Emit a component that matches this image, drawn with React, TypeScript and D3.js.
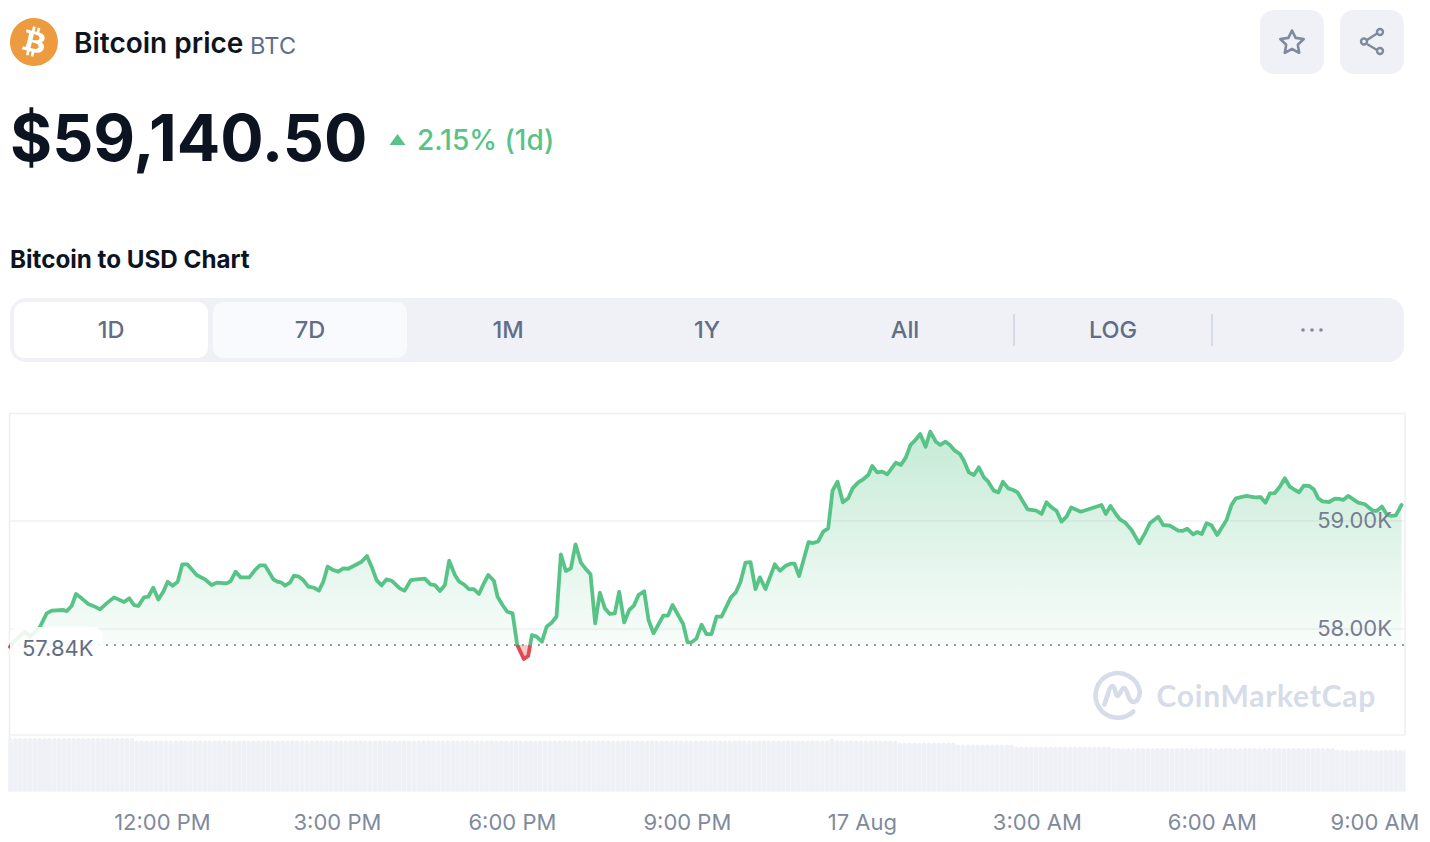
import * as d3 from 'd3';

// minutes since the left edge of the chart (about 9:24 AM on 16 Aug)
const minutes = [
  0, 2, 15.4, 20.6, 30.9, 37.7, 42.9, 54.9, 58.3, 63.4, 67.9, 73.7, 80.6, 87.4, 92.6, 99.4, 107, 117.3, 122.7, 127.5,
  132, 137.8, 142.3, 147.4, 152.6, 157.7, 162.2, 167.3, 172.5, 177.3, 182.4, 192, 200.6, 207.4, 212.6, 222.9, 227, 232.1, 237.3, 246.2,
  252, 257.1, 262.3, 270.9, 275, 279.4, 282.9, 288, 292.1, 297.3, 301.7, 306.9, 312.7, 317.8, 322.3, 326.7, 332.6, 337.7, 342.9, 348,
  361.7, 367.2, 372, 377.1, 382.3, 387.4, 392.6, 401, 406, 412.4, 418.2, 426.8, 432.6, 437.1, 442.2, 447.4, 451.8, 457.7, 462.1, 466.9,
  472.1, 477.2, 482.4, 487.5, 492, 497.8, 501.6, 506.7, 511.5, 517, 521.8, 528.6, 533.1, 536.9, 541.7, 547.2, 552, 557.1, 562.2, 566.7,
  571.8, 577, 581.8, 587.3, 592.4, 597.2, 602, 606.8, 612, 617.1, 622.2, 626.7, 631.8, 637, 641.8, 646.6, 652.4, 656.9, 662, 672,
  676.8, 681.6, 692.5, 697, 701.1, 706.2, 711.4, 716.5, 721.7, 726.8, 732, 741.6, 746.7, 751.5, 756.6, 761.8, 766.9, 771.4, 777.2, 786.8,
  792, 798.1, 802.9, 807.1, 811.8, 821.5, 826.2, 831.4, 836.6, 841.7, 846.2, 851.3, 856.8, 862.3, 866.8, 872.6, 877.7, 882.9, 887, 892.1,
  897.3, 902.4, 911.3, 916.5, 921.6, 926.4, 930.9, 936.4, 941.9, 946.7, 952.5, 957, 962.4, 966.9, 972, 977.2, 981.3, 986.4, 991.6, 996.7,
  1001.9, 1006.3, 1012.1, 1016.9, 1021.4, 1026.9, 1032, 1036.5, 1046.8, 1056, 1061.2, 1066.3, 1071.5, 1076.6, 1081.7, 1086.9, 1091.7, 1101.6, 1122.9, 1127.3,
  1132.1, 1138.3, 1141.8, 1146.9, 1153.8, 1161.7, 1167.5, 1172.6, 1181.2, 1186.3, 1193.2, 1201.8, 1206.2, 1211, 1217.2, 1221.3, 1226.1, 1230.9, 1236, 1241.9,
  1251.5, 1256.6, 1261.1, 1272, 1280.6, 1286.5, 1291.6, 1296.1, 1301.2, 1306.3, 1311.5, 1316.6, 1321.8, 1326.2, 1331, 1336.5, 1341.3, 1345.8, 1350.2, 1357.1,
  1362.9, 1368, 1371.5, 1376.6, 1386.9, 1393.8, 1402.3, 1405.8, 1411.3, 1416.8, 1421.2, 1425.7, 1431.5,
];

const prices = [
  57835, 57867, 57975, 57929, 58021, 58145, 58170, 58176, 58166, 58213, 58324, 58284, 58231, 58207, 58182, 58237, 58293, 58250, 58284, 58222,
  58213, 58293, 58299, 58382, 58274, 58345, 58438, 58401, 58438, 58599, 58599, 58500, 58460, 58407, 58429, 58423, 58444, 58531, 58478, 58478,
  58546, 58589, 58589, 58460, 58438, 58429, 58401, 58429, 58494, 58484, 58453, 58392, 58382, 58355, 58438, 58577, 58546, 58531, 58561, 58558,
  58623, 58676, 58577, 58453, 58404, 58460, 58447, 58376, 58355, 58453, 58460, 58466, 58413, 58407, 58352, 58407, 58632, 58500, 58438, 58413,
  58370, 58370, 58324, 58423, 58500, 58447, 58299, 58222, 58160, 58145, 57852, 57722, 57750, 57944, 57929, 57882, 58021, 58058, 58114, 58691,
  58537, 58561, 58784, 58614, 58555, 58506, 58052, 58336, 58191, 58139, 58145, 58345, 58061, 58176, 58216, 58315, 58349, 58083, 57960, 58123,
  58123, 58222, 58046, 57876, 57876, 57913, 58040, 57953, 57953, 58114, 58114, 58293, 58339, 58438, 58614, 58620, 58370, 58478, 58370, 58599,
  58540, 58586, 58605, 58605, 58490, 58805, 58796, 58811, 58901, 58932, 59281, 59364, 59173, 59210, 59302, 59358, 59386, 59426, 59509, 59450,
  59457, 59432, 59540, 59518, 59589, 59704, 59744, 59805, 59688, 59827, 59734, 59704, 59734, 59704, 59651, 59620, 59558, 59450, 59426, 59497,
  59404, 59364, 59281, 59265, 59364, 59302, 59287, 59265, 59108, 59095, 59065, 59173, 59126, 59095, 58994, 59040, 59126, 59086, 59148, 59065,
  59139, 59056, 59016, 58988, 58917, 58793, 58886, 58979, 59040, 58963, 58957, 58911, 58908, 58929, 58877, 58898, 58880, 58979, 58960, 58871,
  59009, 59148, 59210, 59232, 59219, 59222, 59170, 59256, 59259, 59318, 59395, 59318, 59287, 59266, 59327, 59324, 59293, 59210, 59182, 59176,
  59207, 59204, 59195, 59232, 59170, 59155, 59093, 59093, 59133, 59056, 59047, 59053, 59148,
];

// rolling 24h volume (billions), read as runs of five-minute bars
const volumeCounts = [26, 143, 1, 13, 12, 12, 20, 46, 15];
const volumeLevels = [32.1, 30.6, 31.8, 30.6, 29.4, 28.2, 27, 26.1, 25.1];

const yTicks = [59000, 58000];
const baselinePrice = 57852;
const baselineLabel = '57.84K';
const tickMinutes = [156, 336, 516, 696, 876, 1056, 1236, 1416];
const tickLabels = ['12:00 PM', '3:00 PM', '6:00 PM', '9:00 PM', '17 Aug', '3:00 AM', '6:00 AM', '9:00 AM'];

const tabs = ['1D', '7D', '1M', '1Y', 'All', 'LOG'];
const tabCenters = [111, 310, 508, 707, 905, 1113];

const FONT = 'Inter, "Noto Sans", sans-serif';
const GREEN = '#58c387';
const RED = '#e04a50';
const GRAY = '#808a9d';
const SLATE = '#616e85';
const DARK = '#0d1421';
const PANEL = '#eff1f6';

const x = d3.scaleLinear().domain([0, 1432]).range([10, 1402]);
const y = d3.scaleLinear().domain([58000, 59000]).range([629, 521]);
const yVol = d3.scaleLinear().domain([0, 32.1]).range([791.5, 738]);

const rows = minutes.map((m, i) => ({ m, p: prices[i] }));
const volumes = volumeCounts.flatMap((n, i) => d3.range(n).map(() => volumeLevels[i]));

const line = d3.line<{ m: number; p: number }>().x(d => x(d.m)).y(d => y(d.p));
const area = d3.area<{ m: number; p: number }>().x(d => x(d.m)).y0(y(baselinePrice)).y1(d => y(d.p));

const barX = (i: number) => x(-2 + i * 5);
const barStep = x(5) - x(0);

const Label = (props: any) => <text fontFamily={FONT} {...props} />;

export default function App() {
  const base = y(baselinePrice);
  const top = y(d3.max(prices) as number);
  return (
    <svg width={1430} height={842} style={{ position: 'absolute', left: 0, top: 0, display: 'block' }}>
      <defs>
        <linearGradient id="upFill" gradientUnits="userSpaceOnUse" x1={0} x2={0} y1={top} y2={base}>
          <stop offset="0%" stopColor={GREEN} stopOpacity={0.34} />
          <stop offset="100%" stopColor={GREEN} stopOpacity={0.04} />
        </linearGradient>
        <clipPath id="above"><rect x={0} y={0} width={1430} height={base} /></clipPath>
        <clipPath id="below"><rect x={0} y={base} width={1430} height={200} /></clipPath>
        <clipPath id="volClip"><rect x={0} y={700} width={1405.5} height={yVol(0) - 700} /></clipPath>
      </defs>

      {/* header */}
      <g transform="translate(10,18) scale(0.75)">
        <path fill="#ec9b3e" d="M63.04 39.741c-4.274 17.143-21.638 27.575-38.783 23.301C7.12 58.768-3.313 41.404.962 24.262 5.234 7.117 22.597-3.317 39.737.957c17.144 4.274 27.576 21.64 23.302 38.784z" />
        <path fill="#fff" d="M46.11 27.441c.636-4.258-2.606-6.547-7.039-8.074l1.438-5.768-3.512-.875-1.4 5.616c-.922-.23-1.87-.447-2.812-.662l1.41-5.653-3.509-.875-1.439 5.766c-.764-.174-1.514-.346-2.242-.527l.004-.018-4.842-1.209-.934 3.75s2.605.597 2.55.634c1.422.355 1.68 1.296 1.636 2.042l-1.638 6.571c.098.025.225.061.365.117l-.37-.092-2.297 9.205c-.174.432-.615 1.08-1.609.834.035.051-2.552-.637-2.552-.637l-1.743 4.02 4.57 1.139c.85.213 1.683.436 2.502.646l-1.453 5.835 3.507.875 1.44-5.772c.957.26 1.887.5 2.797.726L27.504 50.8l3.511.875 1.453-5.823c5.987 1.133 10.49.676 12.383-4.738 1.527-4.36-.075-6.875-3.225-8.516 2.294-.531 4.022-2.04 4.483-5.157zM38.087 38.69c-1.086 4.36-8.426 2.004-10.807 1.412l1.928-7.729c2.38.594 10.011 1.77 8.88 6.317zm1.085-11.312c-.99 3.966-7.1 1.951-9.083 1.457l1.748-7.01c1.983.494 8.367 1.416 7.335 5.553z" />
      </g>
      <Label x={74} y={53} fontSize={28} fontWeight={600} fill={DARK}>Bitcoin price</Label>
      <Label x={250} y={54} fontSize={23.5} letterSpacing={0.3} fill={SLATE}>BTC</Label>

      <rect x={1260} y={10} width={64} height={64} rx={14} fill={PANEL} />
      <rect x={1340} y={10} width={64} height={64} rx={14} fill={PANEL} />
      <path d="M1292 30.5l3.6 7.4 8.1 1.1-5.9 5.7 1.4 8.1-7.2-3.8-7.2 3.8 1.4-8.1-5.9-5.7 8.1-1.1z" fill="none" stroke={GRAY} strokeWidth={2.6} strokeLinejoin="round" />
      <g fill="none" stroke={GRAY} strokeWidth={2.4}>
        <path d="M1367 40l10-6.500M1367 44l10 6" />
        <circle cx={1364} cy={41.5} r={3} />
        <circle cx={1380} cy={32} r={3} />
        <circle cx={1380} cy={51} r={3} />
      </g>

      <Label x={10} y={161} fontSize={64.4} fontWeight={700} fill={DARK}>$59,140.50</Label>
      <path d="M397.5 134l8 11h-16z" fill={GREEN} />
      <Label x={417} y={150} fontSize={28} fontWeight={500} fill={GREEN}>2.15% (1d)</Label>

      <Label x={10} y={268} fontSize={24.2} fontWeight={700} fill={DARK}>Bitcoin to USD Chart</Label>

      {/* range tabs */}
      <rect x={10} y={298} width={1394} height={64} rx={16} fill={PANEL} />
      <rect x={14} y={302} width={194} height={56} rx={10} fill="#fff" />
      <rect x={213} y={302} width={194} height={56} rx={10} fill="#f8fafd" />
      {tabs.map((t, i) => (
        <Label key={t} x={tabCenters[i]} y={338} fontSize={23.5} fontWeight={500} textAnchor="middle" fill={SLATE}>{t}</Label>
      ))}
      <line x1={1014} x2={1014} y1={314} y2={346} stroke="#cfd6e4" strokeWidth={1.6} />
      <line x1={1212} x2={1212} y1={314} y2={346} stroke="#cfd6e4" strokeWidth={1.6} />
      {[1303, 1312, 1321].map(cx => <circle key={cx} cx={cx} cy={330} r={1.8} fill={GRAY} />)}

      {/* frame and grid */}
      <path d="M9.5 791V413.5H1405V735" fill="none" stroke="#eeeff1" strokeWidth={1.6} />
      {yTicks.map(t => (
        <line key={t} x1={10} x2={1405} y1={y(t)} y2={y(t)} stroke={PANEL} strokeWidth={1.6} />
      ))}
      <line x1={10} x2={1405} y1={735} y2={735} stroke={PANEL} strokeWidth={1.6} />

      {/* volume */}
      <g clipPath="url(#volClip)">
        {volumes.map((v, i) => (
          <g key={i}>
            <rect x={barX(i)} y={yVol(v) + 1.5} width={barStep} height={yVol(0) - yVol(v)} fill="#f4f5f9" />
            <rect x={barX(i) + 0.3} y={yVol(v)} width={barStep - 0.6} height={yVol(0) - yVol(v) + 6} rx={2} fill={PANEL} />
          </g>
        ))}
      </g>

      {/* watermark */}
      <path
        d="M1133.300 711.500A22.300 22.300 0 1 1 1139.800 691.500C1140 698 1136.500 702 1133.300 702C1128 702 1127.500 688 1124 688C1121 688 1120 696 1117.500 696C1115 696 1115.500 686 1112.500 686C1109 686 1107 699 1104.300 704.500"
        fill="none" stroke="#d6dce9" strokeWidth={4.6} strokeLinecap="round" strokeLinejoin="round"
      />
      <text x={1156.500} y={707} fontSize={30} fontWeight={700} fill="#d6dce9" fontFamily="Lato, Inter, sans-serif" letterSpacing={0.75}>CoinMarketCap</text>

      {/* price */}
      <g clipPath="url(#above)">
        <path d={area(rows) as string} fill="url(#upFill)" />
        <path d={line(rows) as string} fill="none" stroke={GREEN} strokeWidth={3.8} strokeLinejoin="round" strokeLinecap="round" />
      </g>
      <g clipPath="url(#below)">
        <path d={area(rows) as string} fill={RED} fillOpacity={0.3} />
        <path d={line(rows) as string} fill="none" stroke={RED} strokeWidth={3.8} strokeLinejoin="round" strokeLinecap="round" />
      </g>

      <line x1={10} x2={1405} y1={base} y2={base} stroke="#8f9299" strokeWidth={1.8} strokeDasharray="1.8 6.2" />

      {/* y labels */}
      <rect x={10} y={627} width={92} height={36} rx={8} fill="#fff" fillOpacity={0.88} />
      <Label x={22} y={656} fontSize={22} fill={SLATE}>{baselineLabel}</Label>
      {yTicks.map(t => (
        <Label key={t} x={1392} y={y(t) + 7} fontSize={22} textAnchor="end" fill="#777d92">{d3.format('.2f')(t / 1000)}K</Label>
      ))}

      {/* x axis */}
      {tickMinutes.map((m, i) => {
        const last = i === tickMinutes.length - 1;
        return (
          <Label key={m} x={last ? 1419.5 : x(m) + 0.8} y={830} fontSize={22} textAnchor={last ? 'end' : 'middle'} fill={GRAY}>{tickLabels[i]}</Label>
        );
      })}
    </svg>
  );
}
